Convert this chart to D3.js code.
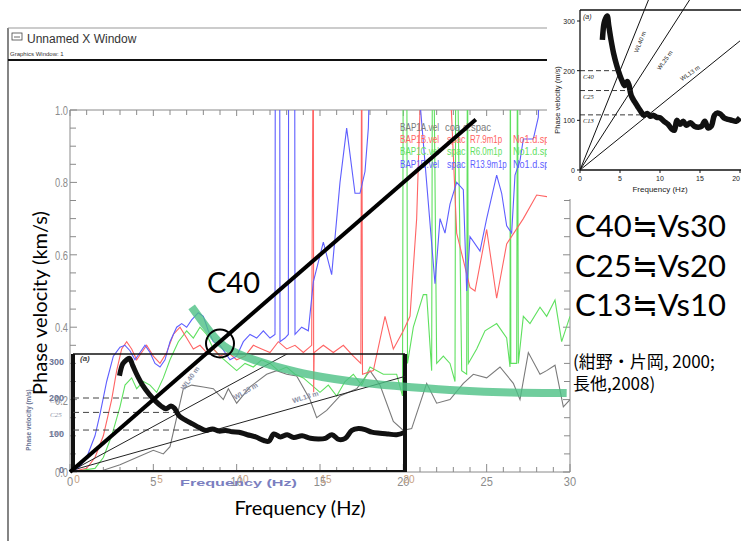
<!DOCTYPE html>
<html><head><meta charset="utf-8">
<script src="https://cdn.jsdelivr.net/npm/d3@7"></script>
<style>body{margin:0;background:#fff}svg{display:block}</style>
</head><body>
<svg id="c" width="741" height="541"></svg>
<script>
// ---------- data ----------
const xTicksMain = [0,5,10,15,20,25,30];
const yTicksMain = [0.0,0.2,0.4,0.6,0.8,1.0];
const legendNames = ["BAP1A.vel","BAP1B.vel","BAP1C.vel","BAP1D.vel"];
const legendWords = [["coa.d.spac"],["spac","R7.9m1p","No1.d.spac"],["spac","R6.0m1p","No1.d.spac"],["spac","R13.9m1p","No1.d.spac"]];
// series: [frequency Hz, phase velocity km/s]; 1.3 = beyond top of frame
const seriesA = [[0,0],[2,0.005],[3,0.02],[4,0.04],[5,0.06],[5.6,0.05],[6,0.07],[6.4,0.15],[6.8,0.23],[7.3,0.24],[8,0.235],[8.6,0.23],[9.2,0.2],[9.5,0.23],[10,0.19],[10.8,0.235],[11.8,0.27],[12.4,0.28],[13,0.27],[13.6,0.265],[14.4,0.2],[14.8,0.15],[15.4,0.17],[16.2,0.21],[17.2,0.23],[18,0.28],[18.6,0.24],[19.4,0.14],[20,0.115],[20.5,0.12],[21.4,0.245],[22,0.19],[22.8,0.2],[23.6,0.245],[24.2,0.27],[25,0.26],[25.8,0.29],[26.6,0.245],[27,0.2],[27.5,0.33],[28.2,0.27],[28.6,0.28],[29.1,0.295],[29.6,0.18],[30,0.2]];
const seriesB = [[0,0],[1,0.01],[1.5,0.04],[2,0.1],[2.5,0.2],[2.8,0.28],[3.1,0.34],[3.4,0.36],[3.7,0.34],[4,0.31],[4.3,0.33],[4.6,0.35],[5,0.32],[5.4,0.3],[5.8,0.33],[6.2,0.38],[6.6,0.4],[7,0.37],[7.4,0.34],[7.8,0.35],[8.2,0.33],[8.6,0.34],[9,0.32],[9.5,0.33],[10,0.31],[10.5,0.32],[11,0.35],[11.5,0.34],[12,0.33],[12.5,0.36],[13,0.34],[13.5,0.35],[14,0.33],[14.5,0.35],[14.6,1.3],[14.62,0.22],[14.65,0.33],[15.2,0.35],[15.8,0.33],[16.4,0.35],[17,0.32],[17.45,0.3],[17.5,1.3],[17.55,0.27],[18.2,0.28],[18.9,0.43],[19.4,0.34],[20,0.39],[20.4,0.43],[20.8,0.7],[21.2,1.3],[22.6,1.3],[23.2,0.66],[24,0.51],[24.3,0.5],[25,0.67],[25.6,0.48],[26.2,0.63],[27.2,0.7],[28,0.765],[28.7,0.76]];
const seriesC = [[0,0],[1.5,0.01],[2,0.04],[2.5,0.1],[3,0.18],[3.3,0.24],[3.7,0.26],[4,0.23],[4.4,0.25],[4.8,0.24],[5.2,0.22],[5.6,0.26],[6,0.31],[6.5,0.36],[7,0.39],[7.4,0.37],[7.8,0.4],[8.2,0.38],[8.6,0.34],[9,0.32],[9.5,0.3],[10,0.28],[10.5,0.3],[11,0.29],[11.5,0.31],[12,0.3],[12.5,0.28],[13,0.29],[13.5,0.27],[14,0.26],[14.5,0.24],[15,0.22],[15.5,0.24],[16,0.21],[16.5,0.25],[17,0.27],[17.5,0.24],[18,0.29],[18.8,0.27],[19.6,0.27],[19.95,0.21],[20,1.3],[20.2,1.3],[20.25,0.3],[20.6,0.4],[21.2,0.49],[21.4,0.49],[21.7,0.28],[21.75,1.3],[21.8,1.3],[22,0.3],[22.4,0.32],[22.8,0.3],[23.1,0.25],[23.15,1.3],[23.2,1.3],[23.5,0.28],[23.8,0.27],[23.85,1.3],[23.9,0.3],[24.4,0.34],[24.9,0.39],[25.6,0.41],[26.2,0.37],[26.4,0.29],[26.42,1.3],[26.45,0.3],[26.8,0.3],[26.85,1.3],[26.9,0.3],[27.2,0.43],[27.6,0.41],[28.2,0.455],[28.6,0.43],[29.1,0.475],[29.5,0.36],[30,0.43]];
const seriesD = [[0,0],[0.5,0.01],[1,0.04],[1.5,0.1],[1.8,0.16],[2.2,0.25],[2.6,0.32],[3,0.345],[3.3,0.35],[3.6,0.335],[3.9,0.31],[4.2,0.33],[4.5,0.35],[4.8,0.33],[5.1,0.3],[5.4,0.29],[5.7,0.31],[6,0.36],[6.4,0.4],[6.7,0.41],[7,0.4],[7.3,0.42],[7.7,0.44],[8,0.43],[8.3,0.39],[8.6,0.36],[9,0.35],[9.3,0.33],[9.6,0.31],[10,0.32],[10.4,0.36],[10.8,0.38],[11.2,0.37],[11.6,0.39],[12,0.37],[12.3,0.38],[12.32,1.3],[12.58,1.3],[12.6,0.36],[12.9,0.37],[13.1,0.38],[13.12,1.3],[13.48,1.3],[13.5,0.38],[13.9,0.4],[14.3,0.39],[14.6,0.525],[15.2,0.635],[15.7,0.545],[16.2,0.8],[16.6,0.95],[17.1,0.77],[17.4,0.77],[17.7,0.83],[17.9,0.95],[18.1,1.3],[20.5,1.3],[21.9,0.52],[22.2,0.7],[22.5,0.66],[22.8,0.74],[23.2,0.8],[23.6,0.78],[23.8,0.5],[24,0.65],[24.6,0.61],[25,0.7],[25.6,0.82],[25.9,0.77],[26.2,0.68],[26.5,0.66],[26.7,0.82],[27,0.86],[27.2,0.92],[27.8,0.92],[28.1,0.98],[28.3,1.3]];
// observed dispersion curve of figure (a): [Hz, m/s]
const obsF = [2.8,3.0,3.2,3.4,3.6,3.9,4.2,4.6,5.0,5.3,5.6,5.9,6.1,6.4,6.8,7.2,7.6,8.0,8.4,8.8,9.2,9.6,10.0,10.5,11.0,11.5,11.8,12.1,12.5,12.9,13.3,13.8,14.3,14.8,15.2,15.6,16.0,16.4,16.8,17.2,17.6,18.0,18.5,19.0,19.5,20.0];
const obsV = [262,295,305,310,290,260,235,210,190,178,170,178,172,150,138,128,118,110,114,108,110,106,105,98,92,82,80,100,92,98,90,95,88,86,88,98,85,88,110,115,112,105,102,100,98,105];
const wavelengths = [40,25,13];           // m
const cLabels = ["C40","C25","C13"];
const cValues = [200,160,111];             // m/s
const insetXTicks = [0,5,10,15,20];
const insetYTicks = [0,100,200,300];
// WL label anchor points [Hz, m/s] and angles
const wlLabInset = [[7.05,255,-55],[10.4,219,-30],[14.0,203,-17]];
const wlLabTR = [[7.5,258,-68],[10.6,221,-55],[13.75,195,-35]];
// green reference band (km/s)
const greenF = [7.3,8.2,9.0,10.0,11.0,12.0,13.0,14.0,15.0,16.8,18.8,20.2,23.4,26.4,29.8];
const greenV = [0.456,0.398,0.352,0.327,0.31,0.296,0.283,0.272,0.263,0.25,0.24,0.235,0.224,0.219,0.218];
const c40End = 24.35;   // Hz end of the C40 (40 m) line
const rightTexts = ["C40≒Vs30","C25≒Vs20","C13≒Vs10"];
const refTexts = ["(紺野・片岡, 2000;"," 長他,2008)"];

// ---------- drawing ----------
const svg = d3.select("#c");
const x = d3.scaleLinear().domain([0,30]).range([70,570]);
const y = d3.scaleLinear().domain([0,1]).range([472,110]);

// window frame
svg.append("line").attr("x1",8).attr("x2",8).attr("y1",28).attr("y2",541).attr("stroke","#333").attr("stroke-width",1.2);
svg.append("line").attr("x1",8).attr("x2",548).attr("y1",28).attr("y2",28).attr("stroke","#999").attr("stroke-width",1);
svg.append("line").attr("x1",8).attr("x2",548).attr("y1",60).attr("y2",60).attr("stroke","#111").attr("stroke-width",2);
const icon = svg.append("g").attr("transform","translate(12,33)");
icon.append("rect").attr("width",10).attr("height",7).attr("fill","none").attr("stroke","#444").attr("stroke-width",0.8);
icon.append("line").attr("x1",2).attr("x2",8).attr("y1",4).attr("y2",4).attr("stroke","#444").attr("stroke-width",0.8);
svg.append("text").attr("x",27).attr("y",43).text("Unnamed X Window").attr("font-family","Liberation Sans, Arial").attr("font-size",12).attr("fill","#333");
svg.append("text").attr("x",10).attr("y",56).text("Graphics Window:  1").attr("font-family","Liberation Sans, Arial").attr("font-size",6).attr("fill","#333");

// main axes (frame style)
const axG = svg.append("g").attr("stroke","#8a8a8a").attr("stroke-width",1).attr("fill","none");
axG.append("line").attr("x1",x(0)).attr("x2",x(0)).attr("y1",y(1)).attr("y2",y(0));
axG.append("line").attr("x1",x(0)).attr("x2",x(30)).attr("y1",y(1)).attr("y2",y(1));
axG.append("line").attr("x1",x(0)).attr("x2",x(30)).attr("y1",y(0)).attr("y2",y(0));
axG.append("line").attr("x1",x(30)).attr("x2",x(30)).attr("y1",y(1)).attr("y2",y(0));
const fTicks = d3.range(0,31,1);
axG.selectAll(".tt").data(fTicks).join("line").attr("x1",d=>x(d)).attr("x2",d=>x(d)).attr("y1",y(1)).attr("y2",d=>y(1)+(d%5===0?6:5));
axG.selectAll(".bt").data(fTicks).join("line").attr("x1",d=>x(d)).attr("x2",d=>x(d)).attr("y1",y(0)).attr("y2",d=>y(0)-(d%5===0?8:5));
const vTicks = d3.range(0,1.0001,0.05);
axG.selectAll(".lt").data(vTicks).join("line").attr("x1",x(0)).attr("x2",(d,i)=>x(0)+(i%4===0?7:6)).attr("y1",d=>y(d)).attr("y2",d=>y(d));
axG.selectAll(".rt").data(vTicks).join("line").attr("x1",x(30)).attr("x2",(d,i)=>x(30)-(i%4===0?7:6)).attr("y1",d=>y(d)).attr("y2",d=>y(d));
svg.selectAll(".yl").data(yTicksMain).join("text").attr("x",x(0)-2).attr("y",d=>y(d)+5).attr("text-anchor","end")
  .text(d=>d.toFixed(1)).attr("textLength",13).attr("lengthAdjust","spacingAndGlyphs")
  .attr("font-family","Liberation Sans, Arial").attr("font-size",13).attr("fill","#8c8c8c");
svg.selectAll(".xl").data(xTicksMain).join("text").attr("x",d=>x(d)).attr("y",y(0)+14).attr("text-anchor","middle")
  .text(d=>d).attr("font-family","Liberation Sans, Arial").attr("font-size",13).attr("fill","#8c8c8c")
  .attr("transform",d=>`translate(${x(d)},0) scale(0.85,1) translate(${-x(d)},0)`);

// clip for data
svg.append("clipPath").attr("id","pc").append("rect").attr("x",x(0)).attr("y",y(1)).attr("width",x(30)-x(0)).attr("height",y(0)-y(1));
const line = d3.line().x(d=>x(d[0])).y(d=>y(d[1])).curve(d3.curveLinear);
const dataG = svg.append("g").attr("clip-path","url(#pc)");
const seriesColors = ["#7a7a7a","#ff6464","#5fe05f","#5e5eff"];
[[seriesA,0],[seriesC,2],[seriesB,1],[seriesD,3]].forEach(([s,ci])=>{
  dataG.append("path").attr("d",line(s)).attr("fill","none").attr("stroke",seriesColors[ci]).attr("stroke-width",1.1);
});
// legend
const lg = svg.append("g").attr("font-family","Liberation Sans, Arial").attr("font-size",11);
const fitW = t => t.length*4.6;
legendNames.forEach((n,i)=>{
  const yy = 131 + i*12.2;
  lg.append("text").attr("x",400).attr("y",yy).attr("fill",seriesColors[i]).text(n).attr("textLength",39).attr("lengthAdjust","spacingAndGlyphs");
  const ws = legendWords[i].length===1 ? [445] : [447,470,513];
  legendWords[i].forEach((w,j)=>lg.append("text").attr("x",ws[j]).attr("y",yy).attr("fill",seriesColors[i]).text(w)
    .attr("textLength",fitW(w)).attr("lengthAdjust","spacingAndGlyphs"));
});

// inset (a) overlaid in lower-left
const xi = d3.scaleLinear().domain([0,20]).range([73,405]);
const yi = d3.scaleLinear().domain([0,300]).range([470,362]);
const ins = svg.append("g");
ins.append("line").attr("x1",xi(0)).attr("x2",xi(20)).attr("y1",354).attr("y2",354).attr("stroke","#111").attr("stroke-width",1.5);
ins.append("line").attr("x1",xi(0)).attr("x2",xi(0)).attr("y1",354).attr("y2",472).attr("stroke","#111").attr("stroke-width",4);
ins.append("line").attr("x1",xi(20)).attr("x2",xi(20)).attr("y1",354).attr("y2",472).attr("stroke","#111").attr("stroke-width",4);
ins.append("line").attr("x1",xi(0)).attr("x2",xi(20)).attr("y1",471).attr("y2",471).attr("stroke","#111").attr("stroke-width",2);
ins.append("text").attr("x",80).attr("y",361).text("(a)").attr("font-family","Liberation Sans").attr("font-style","italic").attr("font-weight","bold").attr("font-size",8).attr("fill","#444");
ins.selectAll(".iyl").data(insetYTicks).join("text").attr("x",64).attr("y",d=>yi(d)+3).attr("text-anchor","end").text(d=>d)
  .attr("font-family","Liberation Sans").attr("font-weight","bold").attr("font-size",9).attr("fill","#6a7494");
ins.selectAll(".ixl").data(insetXTicks).join("text").attr("x",d=>xi(d)+4).attr("y",483).attr("text-anchor","middle").text(d=>d)
  .attr("font-family","Liberation Sans").attr("font-size",10).attr("fill","#c8a080");
ins.append("text").attr("x",180).attr("y",486).text("Frequency (Hz)").attr("textLength",117).attr("lengthAdjust","spacingAndGlyphs")
  .attr("font-family","Liberation Sans").attr("font-weight","bold").attr("font-size",8.5).attr("fill","#7b7fc0");
ins.append("text").attr("transform","translate(31,420) rotate(-90) scale(0.8,1)").attr("text-anchor","middle").text("Phase velocity (m/s)")
  .attr("font-family","Liberation Sans").attr("font-weight","bold").attr("font-size",8).attr("fill","#6a7494");
// dashed C levels
cValues.forEach((v,i)=>{
  ins.append("line").attr("x1",xi(0)).attr("x2",xi(v/wavelengths[i])).attr("y1",yi(v)).attr("y2",yi(v))
    .attr("stroke","#444").attr("stroke-width",1).attr("stroke-dasharray","6,4");
  ins.append("text").attr("x",50).attr("y",yi(v)+5).text(cLabels[i]).attr("font-family","Liberation Serif").attr("font-style","italic").attr("font-size",7).attr("fill","#8a8fa5");
});
// WL lines inside inset
svg.append("clipPath").attr("id","ic").append("rect").attr("x",xi(0)).attr("y",354).attr("width",xi(20)-xi(0)).attr("height",118);
const insClip = ins.append("g").attr("clip-path","url(#ic)");
wavelengths.forEach(w=>{
  insClip.append("line").attr("x1",xi(0)).attr("y1",yi(0)).attr("x2",xi(20)).attr("y2",yi(w*20)).attr("stroke","#222").attr("stroke-width",1);
});
wlLabInset.forEach(([f,v,a],i)=>{
  ins.append("text").attr("transform",`translate(${xi(f)},${yi(v)}) rotate(${a})`).attr("text-anchor","middle").attr("dy","0.35em").text(`WL${wavelengths[i]} m`)
    .attr("font-family","Liberation Sans").attr("font-weight","bold").attr("font-size",7).attr("fill","#8a8fa5");
});
const obs = obsF.map((f,i)=>[f,obsV[i]]);
ins.append("path").attr("d",d3.line().x(d=>xi(d[0])).y(d=>yi(d[1])).curve(d3.curveCatmullRom)(obs))
  .attr("fill","none").attr("stroke","#111").attr("stroke-width",5).attr("stroke-linejoin","round");

// green reference band
const green = greenF.map((f,i)=>[f,greenV[i]]);
svg.append("path").attr("d",d3.line().x(d=>x(d[0])).y(d=>y(d[1])).curve(d3.curveBasis)(green))
  .attr("fill","none").attr("stroke","#4cc184").attr("stroke-opacity",0.8).attr("stroke-width",8);

// C40 thick line
svg.append("line").attr("x1",x(0)).attr("y1",y(0)).attr("x2",x(c40End)).attr("y2",y(c40End*0.04)).attr("stroke","#000").attr("stroke-width",4);
svg.append("circle").attr("cx",x(9.0)).attr("cy",y(0.355)).attr("r",14).attr("fill","none").attr("stroke","#000").attr("stroke-width",2);
svg.append("text").attr("x",207).attr("y",293).text("C40").attr("font-family","Lato, Open Sans").attr("font-size",29).attr("fill","#000");

// slide labels
svg.append("text").attr("transform","translate(47,303) rotate(-90)").attr("text-anchor","middle").text("Phase velocity (km/s)")
  .attr("font-family","Lato, Open Sans").attr("font-size",20).attr("fill","#000");
svg.append("text").attr("x",300).attr("y",515).attr("text-anchor","middle").text("Frequency (Hz)")
  .attr("font-family","Lato, Open Sans").attr("font-size",20).attr("fill","#000");

// top-right figure (a)
svg.append("rect").attr("x",547).attr("y",0).attr("width",194).attr("height",199).attr("fill","#fff");
const xt = d3.scaleLinear().domain([0,20]).range([580,740]);
const yt = d3.scaleLinear().domain([0,300]).range([170,21]);
const tr = svg.append("g");
svg.append("clipPath").attr("id","tc").append("rect").attr("x",580).attr("y",0).attr("width",161).attr("height",171);
tr.append("line").attr("x1",580).attr("x2",580).attr("y1",10).attr("y2",170).attr("stroke","#111").attr("stroke-width",1.3);
tr.append("line").attr("x1",580).attr("x2",741).attr("y1",170).attr("y2",170).attr("stroke","#111").attr("stroke-width",1.3);
tr.append("line").attr("x1",580).attr("x2",741).attr("y1",10).attr("y2",10).attr("stroke","#111").attr("stroke-width",1.3);
tr.selectAll(".a").data(insetYTicks).join("line").attr("x1",577).attr("x2",580).attr("y1",d=>yt(d)).attr("y2",d=>yt(d)).attr("stroke","#111");
tr.selectAll(".b").data(insetXTicks).join("line").attr("x1",d=>xt(d)).attr("x2",d=>xt(d)).attr("y1",170).attr("y2",173).attr("stroke","#111");
tr.selectAll(".c").data(insetYTicks).join("text").attr("x",575).attr("y",d=>yt(d)+3).attr("text-anchor","end").text(d=>d)
  .attr("font-family","Liberation Sans").attr("font-size",7).attr("fill","#222");
tr.selectAll(".d").data(insetXTicks).join("text").attr("x",d=>xt(d)).attr("y",181).attr("text-anchor",d=>d===20?"end":"middle").text(d=>d)
  .attr("font-family","Liberation Sans").attr("font-size",7).attr("fill","#222");
tr.append("text").attr("x",660).attr("y",192).attr("text-anchor","middle").text("Frequency (Hz)").attr("font-family","Liberation Sans").attr("font-size",8).attr("fill","#222");
tr.append("text").attr("transform","translate(560,100) rotate(-90)").attr("text-anchor","middle").text("Phase velocity (m/s)").attr("font-family","Liberation Sans").attr("font-size",7.5).attr("fill","#222");
tr.append("text").attr("x",583).attr("y",19).text("(a)").attr("font-family","Liberation Sans").attr("font-style","italic").attr("font-size",7).attr("fill","#222");
const trc = tr.append("g").attr("clip-path","url(#tc)");
wavelengths.forEach(w=>{
  trc.append("line").attr("x1",xt(0)).attr("y1",yt(0)).attr("x2",xt(20)).attr("y2",yt(w*20)).attr("stroke","#111").attr("stroke-width",1);
});
cValues.forEach((v,i)=>{
  tr.append("line").attr("x1",xt(0)).attr("x2",xt(v/wavelengths[i])).attr("y1",yt(v)).attr("y2",yt(v))
    .attr("stroke","#222").attr("stroke-width",0.9).attr("stroke-dasharray","5,3");
  tr.append("text").attr("x",583).attr("y",yt(v)+8).text(cLabels[i]).attr("font-family","Liberation Serif").attr("font-style","italic").attr("font-size",6.5).attr("fill","#222");
});
wlLabTR.forEach(([f,v,a],i)=>{
  tr.append("text").attr("transform",`translate(${xt(f)},${yt(v)}) rotate(${a})`).attr("text-anchor","middle").attr("dy","0.35em").text(`WL${wavelengths[i]} m`)
    .attr("font-family","Liberation Sans").attr("font-size",6).attr("fill","#222");
});
trc.append("path").attr("d",d3.line().x(d=>xt(d[0])).y(d=>yt(d[1])).curve(d3.curveCatmullRom)(obs))
  .attr("fill","none").attr("stroke","#111").attr("stroke-width",5.5).attr("stroke-linejoin","round");

// right-hand text
rightTexts.forEach((t,i)=>{
  svg.append("text").attr("x",575).attr("y",237+i*39.5).text(t).attr("font-family","Lato, 'Noto Sans CJK JP'").attr("font-size",31).attr("fill","#000");
});
refTexts.forEach((t,i)=>{
  svg.append("text").attr("x",573).attr("y",368+i*22).text(t).attr("font-family","'Noto Sans CJK JP'").attr("font-size",17).attr("fill","#000");
});
</script>
</body></html>
